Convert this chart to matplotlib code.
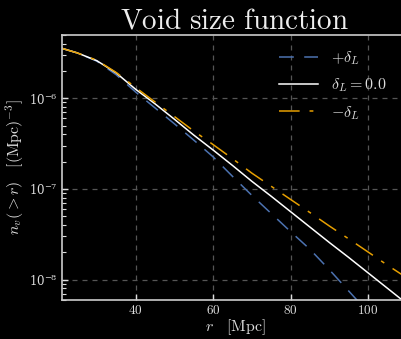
import numpy as np
import matplotlib
matplotlib.use("Agg")
import matplotlib.pyplot as plt
from matplotlib.ticker import FuncFormatter, LogLocator, FixedLocator

# ---- data (log10 of n_v(>r)) ----
r = [21, 25, 30, 35, 40, 45, 50, 55, 60, 65, 70, 75, 80, 85, 90, 95, 100, 105, 110]
log_plus = [-5.449, -5.50, -5.59, -5.74, -5.93, -6.105, -6.28, -6.46, -6.645, -6.86,
            -7.07, -7.27, -7.47, -7.665, -7.89, -8.125, -8.36, -8.60, -8.84]
log_zero = [-5.449, -5.50, -5.585, -5.72, -5.90, -6.06, -6.23, -6.405, -6.57, -6.74,
            -6.915, -7.08, -7.25, -7.42, -7.59, -7.755, -7.925, -8.095, -8.265]
log_minus = [-5.449, -5.50, -5.58, -5.715, -5.88, -6.04, -6.20, -6.36, -6.51, -6.665,
             -6.825, -6.97, -7.115, -7.26, -7.408, -7.55, -7.695, -7.84, -7.98]
labels = [r'$+\delta_L$', r'$\delta_L = 0.0$', r'$-\delta_L$']
x_ticks = [40, 60, 80, 100]

plt.rcParams['mathtext.fontset'] = 'cm'
plt.rcParams['font.family'] = ['DejaVu Serif']

fg = '#dddddd'
fig = plt.figure(figsize=(4.02, 3.39), dpi=100, facecolor='black')
ax = fig.add_axes([0.154, 0.115, 0.861, 0.782], facecolor='black')

ax.plot(r, 10 ** np.array(log_plus), color='#4C72B0', lw=1.1, dashes=(9.7, 6.8), label=labels[0])
ax.plot(r, 10 ** np.array(log_zero), color='white', lw=1.1, label=labels[1])
ax.plot(r, 10 ** np.array(log_minus), color='#E69F00', lw=1.1, dashes=(13.5, 6.5, 2.5, 6.5), label=labels[2])

ax.set_yscale('log')
ax.set_xlim(21, 110.3)
ax.set_ylim(5.97e-9, 5.0e-6)

ax.xaxis.set_major_locator(FixedLocator(x_ticks))
ax.xaxis.set_major_formatter(FuncFormatter(lambda v, p: r'$%d$' % v))
ax.yaxis.set_major_locator(LogLocator(base=10))
ax.yaxis.set_minor_locator(LogLocator(base=10, subs=np.arange(2, 10)))
ax.yaxis.set_minor_formatter(FuncFormatter(lambda v, p: ''))

ax.tick_params(which='both', direction='in', colors=fg)
ax.tick_params(axis='x', labelsize=9.5)
ax.tick_params(axis='y', labelsize=8.5)
ax.tick_params(which='major', length=4.5, width=1.0, pad=3)
ax.tick_params(which='minor', length=3.0, width=0.8)
for sp in ax.spines.values():
    sp.set_color('#cccccc')
    sp.set_linewidth(1.2)

ax.grid(True, which='major', color='#555555', linestyle=(0, (4, 4)), linewidth=0.9)

ax.set_xlabel(r'$r\quad[\mathrm{Mpc}]$', color=fg, fontsize=11.5, labelpad=0)
ax.set_ylabel(r'$n_v(>r)\quad[(\mathrm{Mpc})^{-3}]$', color=fg, fontsize=11.5)
ax.yaxis.set_label_coords(-0.105, 0.5)
ax.set_title(r'$\mathrm{Void\ size\ function}$', color='#eeeeee', fontsize=21, pad=3)

leg = ax.legend(loc='upper right', frameon=False, fontsize=11.5, labelcolor=fg,
                handlelength=2.5, bbox_to_anchor=(0.98, 1.0), labelspacing=0.6)

fig.savefig('out.png', dpi=100, facecolor='black')
